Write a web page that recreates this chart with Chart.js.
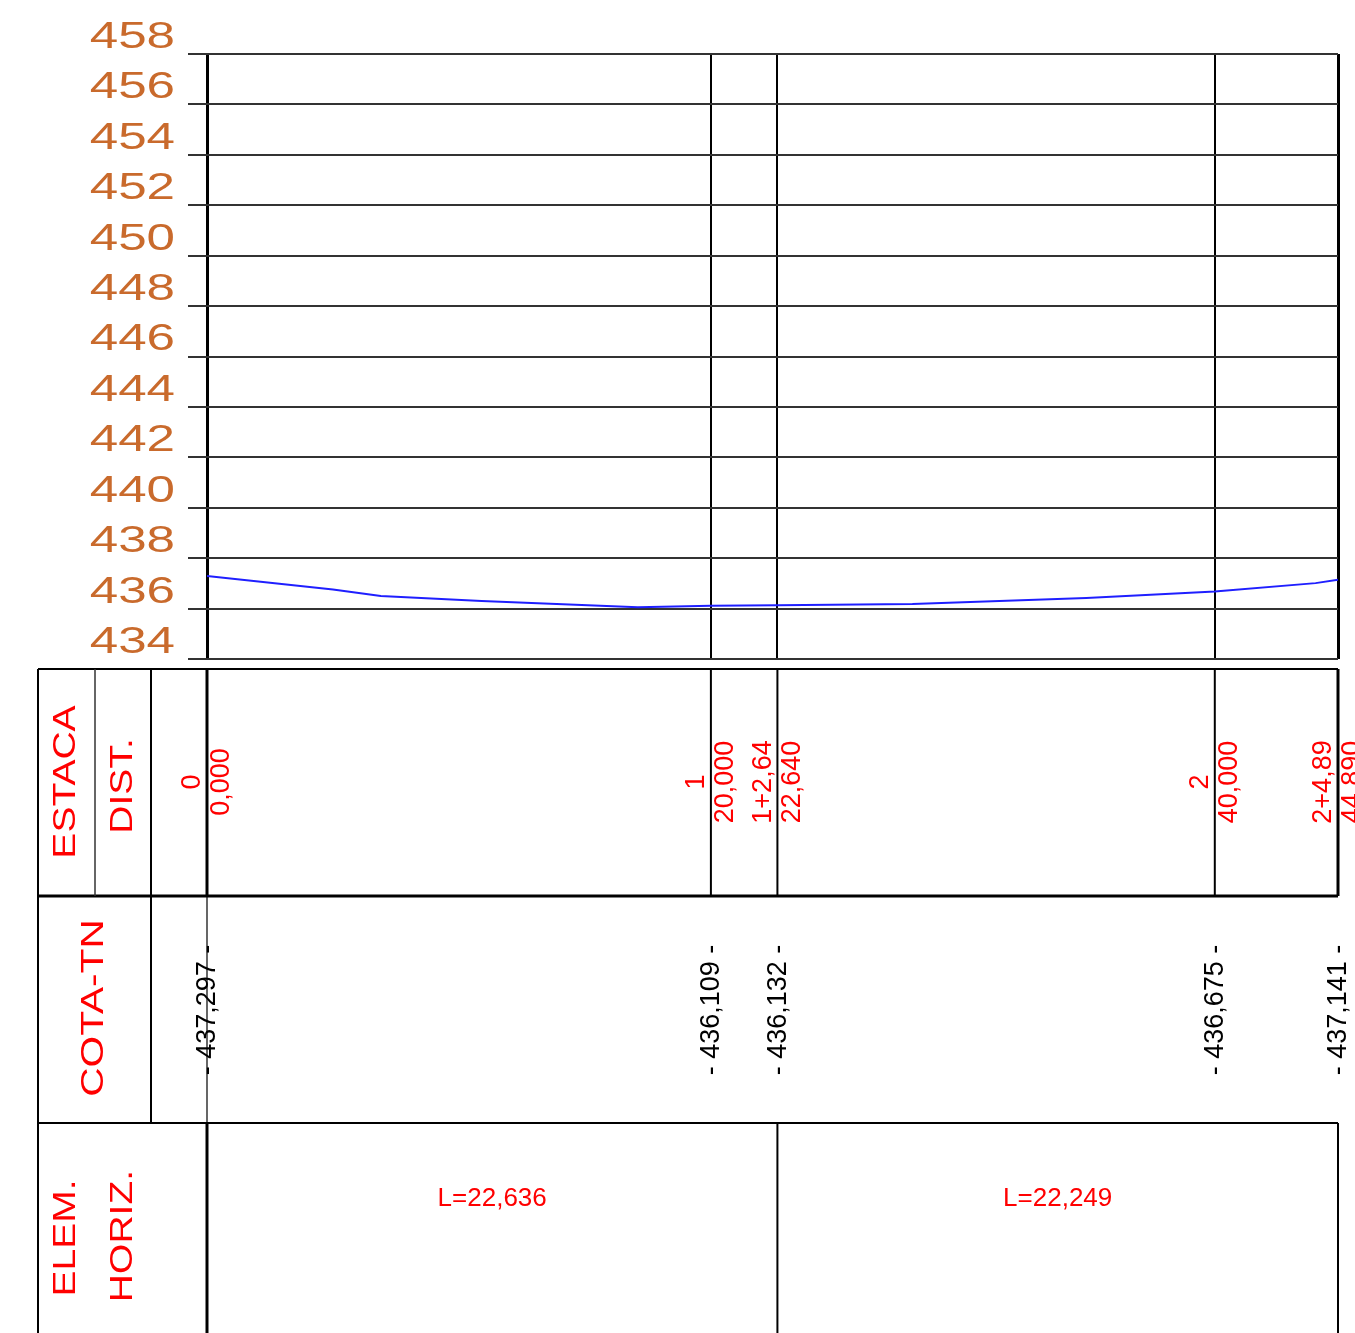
<!DOCTYPE html>
<html>
<head>
<meta charset="utf-8">
<script src="https://cdn.jsdelivr.net/npm/chart.js@4.4.1/dist/chart.umd.min.js"></script>
<style>
  html, body { margin: 0; padding: 0; background: #fff; }
  #wrap { width: 1355px; height: 1333px; }
</style>
</head>
<body>
<div id="wrap"><canvas id="chart" width="1355" height="1333"></canvas></div>
<script>
// terrain profile (distance / elevation)
var dist = [0, 5.0, 6.9, 10.9, 17.1, 20, 22.64, 28.0, 34.9, 40, 44.0, 44.89];
var cota = [437.297, 436.76, 436.50, 436.30, 436.05, 436.109, 436.132, 436.18, 436.42, 436.675, 437.01, 437.141];

// stations
var stations = [0, 20, 22.64, 40, 44.89];
var stakeLabels = ['0', '1', '1+2,64', '2', '2+4,89'];
var distLabels = ['0,000', '20,000', '22,640', '40,000', '44,890'];
var cotaLabels = ['437,297', '436,109', '436,132', '436,675', '437,141'];

// horizontal elements
var elemStart = [0, 22.64];
var elemEnd = [22.64, 44.89];
var elemLabels = ['L=22,636', 'L=22,249'];

// elevation ticks
var elevTicks = [434, 436, 438, 440, 442, 444, 446, 448, 450, 452, 454, 456, 458];

var RED = '#ff0000';
var ORANGE = '#c96a2c';
var FONT = "'Liberation Sans', Arial, sans-serif";

function txt(ctx, s, x, y, size, color, rot, stretch, align) {
    ctx.save();
    ctx.translate(x, y);
    if (rot) ctx.rotate(-Math.PI / 2);
    ctx.scale(stretch || 1, 1);
    ctx.font = size + 'px ' + FONT;
    ctx.fillStyle = color;
    ctx.textAlign = align || 'center';
    ctx.textBaseline = 'middle';
    ctx.fillText(s, 0, 0);
    ctx.restore();
}

function line(ctx, x1, y1, x2, y2, w, c) {
    ctx.save();
    ctx.beginPath();
    ctx.moveTo(x1, y1);
    ctx.lineTo(x2, y2);
    ctx.lineWidth = w;
    ctx.strokeStyle = c || '#000';
    ctx.stroke();
    ctx.restore();
}

var tablePlugin = {
    id: 'tablePlugin',
    afterDraw: function (chart) {
        var ctx = chart.ctx;
        var xs = chart.scales.x;
        var ys = chart.scales.y;

        // elevation labels
        ys.ticks.forEach(function (t) {
            txt(ctx, String(t.value), 175, ys.getPixelForValue(t.value) - 16, 36, ORANGE, false, 1.42, 'right');
        });

        var x0 = 38, right = xs.getPixelForValue(stations[stations.length - 1]);
        var r1 = 669, r2 = 896, r3 = 1123, bottom = 1340;

        // table borders
        line(ctx, x0, r1, right, r1, 2);
        line(ctx, x0, r2, right, r2, 3);
        line(ctx, x0, r3, right, r3, 2);
        line(ctx, x0, r1, x0, bottom, 2);
        line(ctx, 95, r1, 95, r2, 1.5, '#333');
        line(ctx, 151, r1, 151, r3, 2);

        // header texts
        txt(ctx, 'ESTACA', 66, 782, 32, RED, true, 1.22);
        txt(ctx, 'DIST.', 123, 786, 32, RED, true, 1.22);
        txt(ctx, 'COTA-TN', 94, 1008, 32, RED, true, 1.27);
        txt(ctx, 'ELEM.', 66, 1238, 32, RED, true, 1.22);
        txt(ctx, 'HORIZ.', 123, 1236, 32, RED, true, 1.22);

        // stations
        for (var i = 0; i < stations.length; i++) {
            var px = xs.getPixelForValue(stations[i]);
            var edge = (i === 0 || i === stations.length - 1);
            line(ctx, px, r1, px, r2, edge ? 3 : 2);
            txt(ctx, stakeLabels[i], px - 14, 782, 27, RED, true);
            txt(ctx, distLabels[i], px + 15, 782, 27, RED, true);
            txt(ctx, '- ' + cotaLabels[i] + ' -', px + 1, 1010, 27, '#000', true);
        }
        // thin line for station 0 in COTA-TN row
        line(ctx, xs.getPixelForValue(stations[0]), r2, xs.getPixelForValue(stations[0]), r3, 1.2);

        // horizontal elements
        for (var j = 0; j < elemLabels.length; j++) {
            var a = xs.getPixelForValue(elemStart[j]);
            var b = xs.getPixelForValue(elemEnd[j]);
            line(ctx, a, r3, a, bottom, j === 0 ? 3 : 2);
            if (j === elemLabels.length - 1) line(ctx, b, r3, b, bottom, 2);
            txt(ctx, elemLabels[j], (a + b) / 2, 1199, 26, RED, false);
        }
    }
};

new Chart(document.getElementById('chart'), {
    type: 'line',
    data: {
        datasets: [{
            data: dist.map(function (d, i) { return { x: d, y: cota[i] }; }),
            borderColor: '#1f1fff',
            borderWidth: 2,
            pointRadius: 0,
            tension: 0,
            fill: false
        }]
    },
    options: {
        responsive: false,
        animation: false,
        devicePixelRatio: 1,
        layout: { padding: { left: 188, right: 17, top: 54, bottom: 674 } },
        plugins: { legend: { display: false }, tooltip: { enabled: false } },
        scales: {
            x: {
                type: 'linear',
                min: 0,
                max: 44.89,
                afterBuildTicks: function (axis) {
                    axis.ticks = stations.map(function (v) { return { value: v }; });
                },
                ticks: { display: false },
                border: { display: false },
                grid: {
                    drawTicks: false,
                    color: '#000',
                    lineWidth: function (c) {
                        return (c.index === 0 || c.index === stations.length - 1) ? 3 : 2;
                    }
                }
            },
            y: {
                min: 434,
                max: 458,
                afterBuildTicks: function (axis) {
                    axis.ticks = elevTicks.map(function (v) { return { value: v }; });
                },
                ticks: { display: false },
                border: { display: false },
                grid: { color: '#333', lineWidth: 2, drawTicks: true, tickLength: 19 }
            }
        }
    },
    plugins: [tablePlugin]
});
</script>
</body>
</html>
